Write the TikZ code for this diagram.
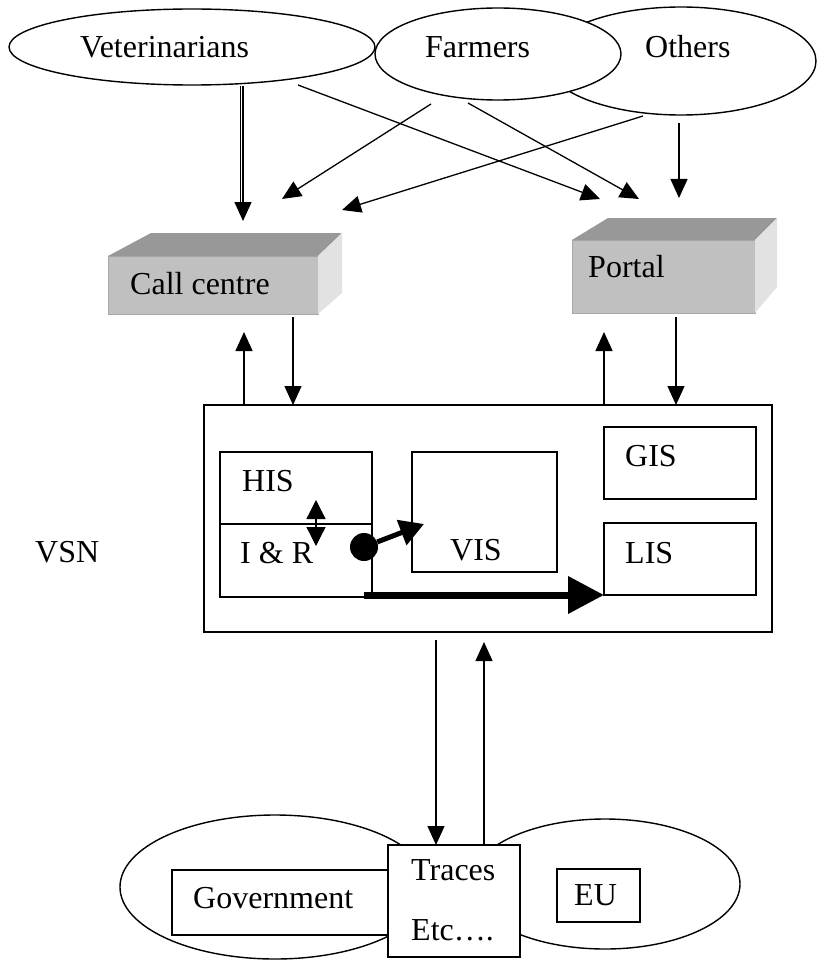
\documentclass[tikz,border=0pt]{standalone}
\usepackage{fontspec}
\setmainfont{Liberation Serif}
\usetikzlibrary{arrows.meta,shapes.geometric}

\definecolor{frontgray}{HTML}{C0C0C0}
\definecolor{topgray}{HTML}{989898}
\definecolor{sidegray}{HTML}{E2E2E2}
\definecolor{edgegray}{HTML}{A8A8A8}

\begin{document}
\begin{tikzpicture}[x=1pt, y=-1pt, font=\fontsize{32}{38}\selectfont,
		oval/.style={ellipse, draw, fill=white, line width=1.4pt, inner sep=0pt, outer sep=0pt},
		box/.style={rectangle, draw, fill=white, line width=1.6pt, inner sep=0pt, outer sep=0pt},
		front/.style={rectangle, fill=frontgray, draw=edgegray, line width=1pt, inner sep=0pt, outer sep=0pt},
		txt/.style={anchor=base west, inner sep=0pt},
		arr/.style={line width=1.3pt, -{Triangle[length=19pt, width=17pt]}},
		dblarr/.style={line width=1.3pt, {Triangle[length=19pt, width=19pt]}-{Triangle[length=19pt, width=19pt]}},
		fatarr/.style={line width=5pt, -{Triangle[length=24pt, width=26pt]}},
		bigarr/.style={line width=7pt, -{Triangle[length=36pt, width=36pt]}}]
		\useasboundingbox (0,0) rectangle (818,960);

		\node [oval, minimum width=366pt, minimum height=76pt] (vet) at (192,47) {};
		\node [oval, minimum width=270pt, minimum height=108pt] (others) at (681,61) {};
		\node [oval, minimum width=246pt, minimum height=92pt] (farmers) at (498,54) {};
		\node [txt] (vettext) at (80,58) {Veterinarians};
		\node [txt] (farmerstext) at (425,58) {Farmers};
		\node [txt] (otherstext) at (645,58) {Others};

		\node [front, minimum width=210pt, minimum height=58pt] (callcentre) at (213,285) {};
		\fill [topgray] (callcentre.north west) -- ++(43,-23) -- ([shift={(24,-23)}]callcentre.north east) -- (callcentre.north east) -- cycle;
		\fill [sidegray] (callcentre.north east) -- ++(24,-23) -- ++(0,60) -- (callcentre.south east) -- cycle;
		\node [txt] (cctext) at (130,294) {Call centre};

		\node [front, minimum width=183pt, minimum height=73pt] (portal) at (663.5,276.5) {};
		\fill [topgray] (portal.north west) -- ++(36,-22) -- ([shift={(22,-22)}]portal.north east) -- (portal.north east) -- cycle;
		\fill [sidegray] (portal.north east) -- ++(22,-22) -- ++(0,69) -- (portal.south east) -- cycle;
		\node [txt] (portaltext) at (588,277) {Portal};

		\coordinate (v1) at (243,86);
		\coordinate (v2) at (298,85);
		\coordinate (f1) at (431,104);
		\coordinate (f2) at (468,103);
		\coordinate (o1) at (643,116);
		\coordinate (o2) at (679,123);
		\coordinate (cc1) at (243,221);
		\coordinate (cc2) at (282,199);
		\coordinate (cc3) at (342,210);
		\coordinate (p1) at (600,199);
		\coordinate (p2) at (639,199);
		\coordinate (p3) at (679,198);

		\path[arr] (v1) edge (cc1);
		\draw[line width=1.3pt, shorten >=15pt] ([xshift=-2.6pt]v1) -- ([xshift=-2.6pt]cc1);
		\path[arr] (v2) edge (p1);
		\path[arr] (f1) edge (cc2);
		\path[arr] (f2) edge (p2);
		\path[arr] (o1) edge (cc3);
		\path[arr] (o2) edge (p3);

		\node [box, line width=1.8pt, minimum width=568pt, minimum height=227pt] (vsn) at (488,518.5) {};
		\node [box, minimum width=152pt, minimum height=72pt] (his) at (296,488) {};
		\node [box, minimum width=152pt, minimum height=73pt] (ir) at (296,560.5) {};
		\node [box, minimum width=145pt, minimum height=120pt] (vis) at (484.5,512) {};
		\node [box, minimum width=152pt, minimum height=72pt] (gis) at (680,463) {};
		\node [box, minimum width=152pt, minimum height=72pt] (lis) at (680,559) {};
		\node [txt] (vsntext) at (35,562) {VSN};
		\node [txt] (histext) at (242,491) {HIS};
		\node [txt] (irtext) at (240,563) {I \& R};
		\node [txt] (vistext) at (450,560) {VIS};
		\node [txt] (gistext) at (625,466) {GIS};
		\node [txt] (listext) at (625,563) {LIS};

		\coordinate (hisup) at (316,500);
		\coordinate (irdown) at (316,546);
		\coordinate (vistip) at (424,524);
		\node [circle, fill, minimum size=28pt, inner sep=0pt] (dot) at (364,547) {};
		\path[dblarr] (hisup) edge (irdown);
		\path[fatarr] (dot) edge (vistip);
		\path[bigarr] (dot |- lis.south west) edge (lis.south west);

		\coordinate (ccup) at (244,332);
		\coordinate (ccdn) at (293,317);
		\coordinate (pup) at (604,332);
		\coordinate (pdn) at (676,317);
		\path[arr] (vsn.north -| ccup) edge (ccup);
		\path[arr] (ccdn) edge (vsn.north -| ccdn);
		\path[arr] (vsn.north -| pup) edge (pup);
		\path[arr] (pdn) edge (vsn.north -| pdn);

		\node [oval, minimum width=310pt, minimum height=144pt] (govoval) at (275,887) {};
		\node [oval, minimum width=270pt, minimum height=130pt] (euoval) at (605,884) {};
		\node [box, minimum width=220pt, minimum height=65pt] (government) at (282,902.5) {};
		\node [box, minimum width=83pt, minimum height=53pt] (eu) at (598.5,895.5) {};
		\node [box, minimum width=132pt, minimum height=112pt] (traces) at (454,901) {};
		\node [txt] (govtext) at (193,908) {Government};
		\node [txt] (eutext) at (574,905) {EU};
		\node [txt] (tracestext) at (411,880) {Traces};
		\node [txt] (etctext) at (411,940) {Etc….};

		\coordinate (tdn) at (436,640);
		\coordinate (tup) at (484,642);
		\path[arr] (tdn) edge (traces.north -| tdn);
		\path[arr] (traces.north -| tup) edge (tup);
\end{tikzpicture}
\end{document}
